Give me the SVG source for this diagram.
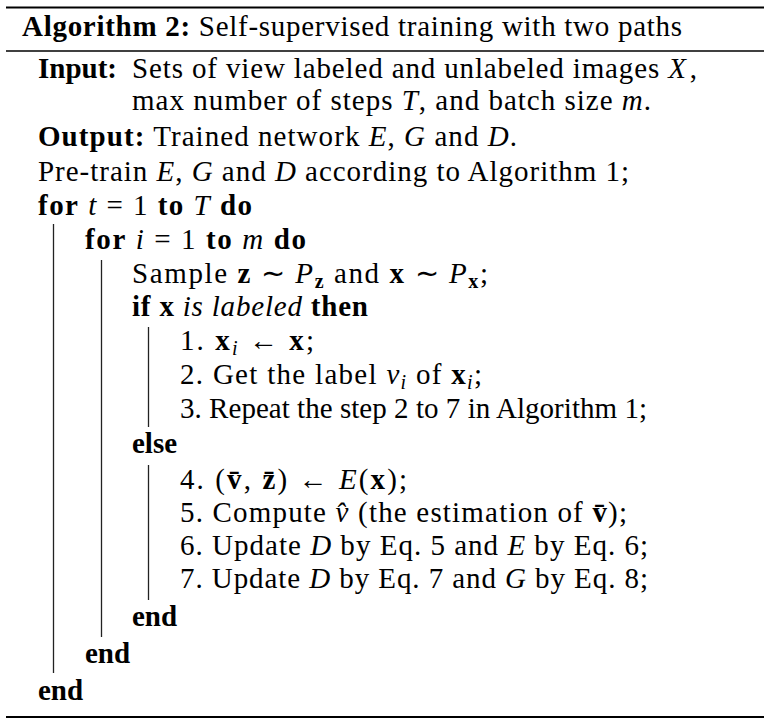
<svg xmlns="http://www.w3.org/2000/svg" width="764" height="724" viewBox="0 0 764 724">
<style>
text{font-family:"Liberation Serif","Times New Roman",serif;font-size:29px;fill:#000}
.b{font-weight:bold}
.i{font-style:italic}
.s{font-size:20px}
.rule{stroke:#000;fill:none}
.bar{stroke:#222;stroke-width:1.3;fill:none}
</style>
<rect width="764" height="724" fill="#fff"/>
<g id="rules">
<line class="rule" x1="6" y1="7.5" x2="764" y2="7.5" stroke-width="2.2"/>
<line class="rule" x1="6" y1="51" x2="764" y2="51" stroke-width="1.6"/>
<line class="rule" x1="6" y1="717" x2="764" y2="717" stroke-width="2.2"/>
</g>
<g id="bars">
<line class="bar" x1="53.5" y1="224" x2="53.5" y2="673"/>
<line class="bar" x1="101.5" y1="260" x2="101.5" y2="637"/>
<line class="bar" x1="148.5" y1="327" x2="148.5" y2="427"/>
<line class="bar" x1="148.5" y1="465" x2="148.5" y2="600"/>
</g>
<g id="title"><text x="22" y="36" textLength="660" lengthAdjust="spacing"><tspan class="b">Algorithm 2:</tspan> Self-supervised training with two paths</text></g>
<g id="input">
<text x="38" y="78" class="b">Input:</text>
<text x="132" y="78" textLength="565" lengthAdjust="spacing">Sets of view labeled and unlabeled images <tspan class="i">X</tspan><tspan dx="3">,</tspan></text>
<text x="132" y="110" textLength="519" lengthAdjust="spacing">max number of steps <tspan class="i">T</tspan>, and batch size <tspan class="i">m</tspan>.</text>
</g>
<g id="output"><text x="38" y="146" textLength="479" lengthAdjust="spacing"><tspan class="b">Output:</tspan> Trained network <tspan class="i">E</tspan>, <tspan class="i">G</tspan> and <tspan class="i">D</tspan>.</text></g>
<g id="pretrain"><text x="38" y="181" textLength="591" lengthAdjust="spacing">Pre-train <tspan class="i">E</tspan>, <tspan class="i">G</tspan> and <tspan class="i">D</tspan> according to Algorithm 1;</text></g>
<g id="for-t"><text x="38" y="215" textLength="214" lengthAdjust="spacing"><tspan class="b">for</tspan> <tspan class="i">t</tspan> = 1 <tspan class="b">to</tspan> <tspan class="i">T</tspan> <tspan class="b">do</tspan></text></g>
<g id="for-i"><text x="85" y="249" textLength="221" lengthAdjust="spacing"><tspan class="b">for</tspan> <tspan class="i">i</tspan> = 1 <tspan class="b">to</tspan> <tspan class="i">m</tspan> <tspan class="b">do</tspan></text></g>
<g id="sample"><text x="132" y="283" textLength="356" lengthAdjust="spacing">Sample <tspan class="b">z</tspan> ∼ <tspan class="i">P</tspan><tspan class="b s" dy="5">z</tspan><tspan dy="-5"> and </tspan><tspan class="b">x</tspan> ∼ <tspan class="i">P</tspan><tspan class="b s" dy="5">x</tspan><tspan dy="-5">;</tspan></text></g>
<g id="if"><text x="132" y="316" textLength="236" lengthAdjust="spacing"><tspan class="b">if</tspan> <tspan class="b">x</tspan> <tspan class="i">is labeled</tspan> <tspan class="b">then</tspan></text></g>
<g id="step1"><text x="180" y="350" textLength="134" lengthAdjust="spacing">1. <tspan class="b">x</tspan><tspan class="i s" dy="5">i</tspan><tspan dy="-5"> ← </tspan><tspan class="b">x</tspan>;</text></g>
<g id="step2"><text x="180" y="384" textLength="302" lengthAdjust="spacing">2. Get the label <tspan class="i">v</tspan><tspan class="i s" dy="5">i</tspan><tspan dy="-5"> of </tspan><tspan class="b">x</tspan><tspan class="i s" dy="5">i</tspan><tspan dy="-5">;</tspan></text></g>
<g id="step3"><text x="180" y="418" textLength="467" lengthAdjust="spacing">3. Repeat the step 2 to 7 in Algorithm 1;</text></g>
<g id="else"><text x="132" y="453" class="b">else</text></g>
<g id="step4"><text x="180" y="489" textLength="227" lengthAdjust="spacing">4. (<tspan class="b">v̄</tspan>, <tspan class="b">z̄</tspan>) ← <tspan class="i">E</tspan>(<tspan class="b">x</tspan>);</text></g>
<g id="step5"><text x="180" y="522" textLength="447" lengthAdjust="spacing">5. Compute <tspan class="i">v̂</tspan> (the estimation of <tspan class="b">v̄</tspan>);</text></g>
<g id="step6"><text x="180" y="555" textLength="468" lengthAdjust="spacing">6. Update <tspan class="i">D</tspan> by Eq. 5 and <tspan class="i">E</tspan> by Eq. 6;</text></g>
<g id="step7"><text x="180" y="588" textLength="468" lengthAdjust="spacing">7. Update <tspan class="i">D</tspan> by Eq. 7 and <tspan class="i">G</tspan> by Eq. 8;</text></g>
<g id="end-if"><text x="132" y="626" class="b">end</text></g>
<g id="end-for-i"><text x="85" y="663" class="b">end</text></g>
<g id="end-for-t"><text x="38" y="700" class="b">end</text></g>
</svg>
